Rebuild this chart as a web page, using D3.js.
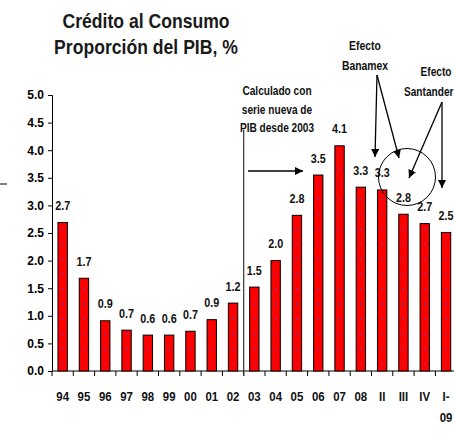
<!DOCTYPE html>
<html>
<head>
<meta charset="utf-8">
<script src="https://cdn.jsdelivr.net/npm/d3@7"></script>
<style>
  body { margin: 0; background: #fff; }
  svg text { font-family: "Liberation Sans", Arial, sans-serif; font-weight: bold; }
</style>
</head>
<body>
<svg id="chart" width="454" height="440"></svg>
<script>
const categories = ["94","95","96","97","98","99","00","01","02","03","04","05","06","07","08","II","III","IV","I-09"];
const values = [2.69, 1.68, 0.91, 0.74, 0.65, 0.65, 0.72, 0.93, 1.23, 1.52, 2.0, 2.82, 3.55, 4.08, 3.33, 3.28, 2.84, 2.67, 2.51];
const valueLabels = ["2.7","1.7","0.9","0.7","0.6","0.6","0.7","0.9","1.2","1.5","2.0","2.8","3.5","4.1","3.3","3.3","2.8","2.7","2.5"];
const yTicks = [0, 0.5, 1, 1.5, 2, 2.5, 3, 3.5, 4, 4.5, 5];
const titleLines = ["Crédito al Consumo", "Proporción del PIB, %"];
const noteLines = ["Calculado con", "serie nueva de", "PIB desde 2003"];
const banamexLines = ["Efecto", "Banamex"];
const santanderLines = ["Efecto", "Santander"];

const svg = d3.select("#chart");
const margin = { top: 95, left: 52, bottom: 69 };
const height = 440;

const x = d3.scaleBand()
  .domain(categories)
  .range([margin.left, margin.left + 21.3 * categories.length])
  .paddingInner(0.56)
  .paddingOuter(0.28);

const y = d3.scaleLinear()
  .domain([0, 5])
  .range([height - margin.bottom, margin.top]);

// the original uses a condensed face, squeeze text horizontally
const squeeze = (sx) => function(sel) {
  sel.attr("transform", function() {
    const t = d3.select(this);
    return `translate(${t.attr("x")},${t.attr("y")}) scale(${sx},1)`;
  }).attr("x", 0).attr("y", 0);
};

const defs = svg.append("defs");
defs.append("marker")
    .attr("id", "arrow")
    .attr("viewBox", "0 0 10 10")
    .attr("refX", 10).attr("refY", 5)
    .attr("markerWidth", 8).attr("markerHeight", 8)
    .attr("markerUnits", "userSpaceOnUse")
    .attr("orient", "auto")
  .append("path")
    .attr("d", "M0,0 L10,5 L0,10 z")
    .attr("fill", "#000");

// title
svg.append("g")
  .selectAll("text")
  .data(titleLines)
  .join("text")
    .attr("x", 146)
    .attr("y", (d, i) => 27.5 + i * 26.5)
    .attr("text-anchor", "middle")
    .attr("font-size", 20)
    .attr("fill", "#1a1a1a")
    .text(d => d)
    .call(squeeze(0.88));

// y axis
const yAxis = svg.append("g")
    .attr("transform", `translate(${margin.left},0)`)
    .call(d3.axisLeft(y).tickValues(yTicks).tickFormat(d3.format(".1f")).tickSize(4).tickPadding(4));
yAxis.select(".domain").attr("stroke", "#000");
yAxis.selectAll("text").attr("font-size", 12).attr("fill", "#000");

// x axis with ticks at band boundaries
const xAxisG = svg.append("g").attr("transform", `translate(0,${y(0)})`);
const step = x.step();
const x0 = margin.left;
const x1 = x.range()[1];
xAxisG.append("line")
    .attr("x1", x0).attr("x2", x1)
    .attr("stroke", "#000");
xAxisG.selectAll("line.tick")
  .data(d3.range(categories.length + 1))
  .join("line")
    .attr("class", "tick")
    .attr("x1", i => x0 + i * step).attr("x2", i => x0 + i * step)
    .attr("y1", 0).attr("y2", 5)
    .attr("stroke", "#000");

const labelRows = categories.map(d => d.startsWith("I-") ? ["I-", d.slice(2)] : [d]);
xAxisG.selectAll("text.lab")
  .data(categories.flatMap((d, i) => labelRows[i].map((p, j) => ({ cat: d, text: p, row: j }))))
  .join("text")
    .attr("class", "lab")
    .attr("x", d => x(d.cat) + x.bandwidth() / 2)
    .attr("y", d => 29.5 + d.row * 21.5)
    .attr("text-anchor", "middle")
    .attr("font-size", 13)
    .attr("fill", "#111")
    .text(d => d.text)
    .call(squeeze(0.88));

// bars
const bars = svg.append("g");
bars.selectAll("rect")
  .data(values)
  .join("rect")
    .attr("x", (d, i) => x(categories[i]))
    .attr("y", d => y(d))
    .attr("width", x.bandwidth())
    .attr("height", d => y(0) - y(d))
    .attr("fill", "#ff0000")
    .attr("stroke", "#000")
    .attr("stroke-width", 1);

// faint dot texture in bars
bars.selectAll("g.dots")
  .data(values)
  .join("g")
    .attr("class", "dots")
  .selectAll("circle")
  .data((d, i) => d3.range(y(0) - 7, y(d) + 3, -15).map(cy => ({ cx: x(categories[i]) + x.bandwidth() / 2, cy })))
  .join("circle")
    .attr("cx", p => p.cx)
    .attr("cy", p => p.cy)
    .attr("r", 0.9)
    .attr("fill", "#7a3aa8");

// value labels
svg.append("g")
  .selectAll("text")
  .data(values)
  .join("text")
    .attr("x", (d, i) => x(categories[i]) + x.bandwidth() / 2)
    .attr("y", d => y(d) - 12.5)
    .attr("text-anchor", "middle")
    .attr("font-size", 13.5)
    .attr("fill", "#111")
    .text((d, i) => valueLabels[i])
    .call(squeeze(0.8));

// separator line between 02 and 03
const sepX = x("03") - x.paddingInner() * step / 2;
svg.append("line")
    .attr("x1", sepX).attr("x2", sepX)
    .attr("y1", 130).attr("y2", y(0) + 5)
    .attr("stroke", "#333").attr("stroke-width", 1.2);

// note text
svg.append("g")
  .selectAll("text")
  .data(noteLines)
  .join("text")
    .attr("x", 277)
    .attr("y", (d, i) => 95 + i * 18.5)
    .attr("text-anchor", "middle")
    .attr("font-size", 13.5)
    .attr("fill", "#111")
    .text(d => d)
    .call(squeeze(0.75));

svg.append("line")
    .attr("x1", 248).attr("y1", 171)
    .attr("x2", 303).attr("y2", 171)
    .attr("stroke", "#000").attr("stroke-width", 1.5)
    .attr("marker-end", "url(#arrow)");

// Efecto Banamex
svg.append("g")
  .selectAll("text")
  .data(banamexLines)
  .join("text")
    .attr("x", 365)
    .attr("y", (d, i) => 49.5 + i * 20)
    .attr("text-anchor", "middle")
    .attr("font-size", 13)
    .attr("fill", "#111")
    .text(d => d)
    .call(squeeze(0.8));

// Efecto Santander (second line pulled in so it stays inside the frame)
svg.append("g")
  .selectAll("text")
  .data(santanderLines)
  .join("text")
    .attr("x", (d, i) => i ? 453.5 : 436)
    .attr("y", (d, i) => 76 + i * 20)
    .attr("text-anchor", (d, i) => i ? "end" : "middle")
    .attr("font-size", 13)
    .attr("fill", "#111")
    .text(d => d)
    .call(squeeze(0.78));

const arrows = [
  [377, 75, 375, 157],
  [377, 75, 399, 158],
  [442, 102, 409, 178],
  [442, 102, 442, 188]
];
svg.append("g")
  .selectAll("line")
  .data(arrows)
  .join("line")
    .attr("x1", d => d[0]).attr("y1", d => d[1])
    .attr("x2", d => d[2]).attr("y2", d => d[3])
    .attr("stroke", "#000").attr("stroke-width", 1.3)
    .attr("marker-end", "url(#arrow)");

svg.append("circle")
    .attr("cx", 407).attr("cy", 177)
    .attr("r", 28.5)
    .attr("fill", "none")
    .attr("stroke", "#000")
    .attr("stroke-width", 1);

// stray mark at left edge
svg.append("line")
    .attr("x1", 0).attr("x2", 7)
    .attr("y1", 184).attr("y2", 184)
    .attr("stroke", "#000");
</script>
</body>
</html>
